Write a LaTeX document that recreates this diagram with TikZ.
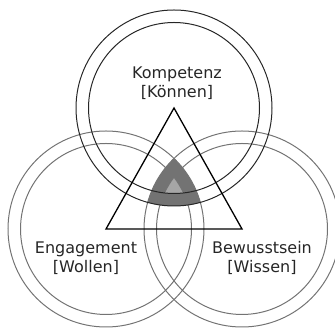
\documentclass[tikz,border=0pt]{standalone}
\usepackage{fontspec}
\setmainfont{DejaVu Sans}
\begin{document}
\begin{tikzpicture}[x=1pt,y=1pt,
  lbl/.style={align=center, anchor=base, text=black!85, font=\fontsize{16}{19}\selectfont},
  ringtop/.style={draw=black!85, line width=1pt},
  ringlow/.style={draw=black!55, line width=1pt}]
\useasboundingbox (0,0) rectangle (335,328);
\coordinate (kon) at (174,220);
\coordinate (wol) at (106,99);
\coordinate (wis) at (242,99);
% shaded overlaps
\begin{scope}
\clip (kon) circle (98);
\clip (wol) circle (98);
\fill[black!55] (wis) circle (98);
\end{scope}
\begin{scope}
\clip (kon) circle (85.5);
\clip (wol) circle (85.5);
\fill[black!35] (wis) circle (85.5);
\end{scope}
% rings
\draw[ringlow] (wol) circle (98);
\draw[ringlow] (wol) circle (85.5);
\draw[ringlow] (wis) circle (98);
\draw[ringlow] (wis) circle (85.5);
\draw[ringtop] (kon) circle (98);
\draw[ringtop] (kon) circle (85.5);
\draw[line width=1.3pt] (kon) -- (wol) -- (wis) -- cycle;
\node[lbl] (tkon) at (177,230) {Kompetenz\\{[}Können{]}};
\node[lbl] (twol) at (86,55) {Engagement\\{[}Wollen{]}};
\node[lbl] (twis) at (262,55) {Bewusstsein\\{[}Wissen{]}};
\end{tikzpicture}
\end{document}
